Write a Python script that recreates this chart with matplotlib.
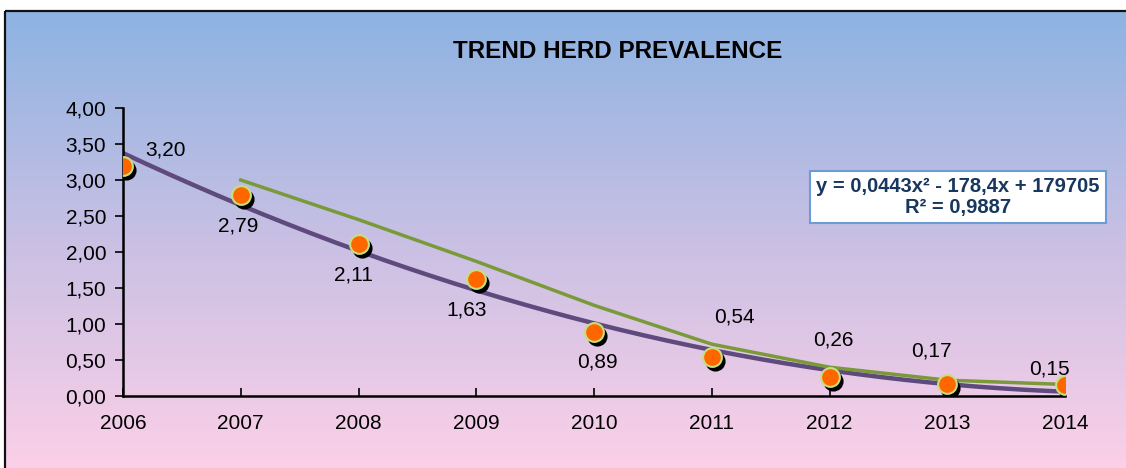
import numpy as np
import matplotlib
matplotlib.use('Agg')
import matplotlib.pyplot as plt
from matplotlib.patches import Rectangle
from matplotlib.colors import LinearSegmentedColormap

plt.rcParams['font.family'] = ['Liberation Sans', 'DejaVu Sans']

# data
years = [2006, 2007, 2008, 2009, 2010, 2011, 2012, 2013, 2014]
prevalence = [3.20, 2.79, 2.11, 1.63, 0.89, 0.54, 0.26, 0.17, 0.15]
labels = ['3,20', '2,79', '2,11', '1,63', '0,89', '0,54', '0,26', '0,17', '0,15']
ma_years = [2007, 2008, 2009, 2010, 2011, 2012, 2013, 2014]
moving_avg = [3.00, 2.45, 1.87, 1.26, 0.72, 0.40, 0.22, 0.16]
yticks = [0, 0.5, 1.0, 1.5, 2.0, 2.5, 3.0, 3.5, 4.0]
equation = 'y = 0,0443x² - 178,4x + 179705\nR² = 0,9887'

# label offsets in pixels (dx, dy), dy up
lab_off = [(43, 16), (-3, -31), (-5, -31), (-10, -31), (3, -30),
           (23, 40), (4, 37), (-16, 33), (-16, 16)]

W, H = 1126, 468
fig = plt.figure(figsize=(W/100, H/100), dpi=100)

# gradient background inside the frame
bg = fig.add_axes([0, 0, 1, 1], zorder=-10)
bg.set_xlim(0, W)
bg.set_ylim(H, 0)
bg.axis('off')
cmap = LinearSegmentedColormap.from_list('bp', ['#8db3e2', '#c9c0e4', '#fdd0e8'])
grad = np.linspace(0, 1, 256).reshape(-1, 1)
bg.imshow(grad, cmap=cmap, aspect='auto', extent=[5, W + 5, H + 5, 11], zorder=0)
bg.add_patch(Rectangle((5, 11), W + 10, H, fill=False, edgecolor='#111111', lw=1.6, zorder=1))

ax = fig.add_axes([123/W, 1 - 396/H, (1065 - 123)/W, (396 - 108)/H])
ax.patch.set_visible(False)

# polynomial trendline (order 2)
coef = np.polyfit(np.array(years) - 2006, prevalence, 2)
xs = np.linspace(0, 8, 200)
ax.plot(xs + 2006, np.polyval(coef, xs), color='#5f4a7d', lw=3.2, zorder=2)

# 2 period moving average
ax.plot(ma_years, moving_avg, color='#7a9a3a', lw=2.5, zorder=3)

# markers with shadow
shadow = ax.transData + matplotlib.transforms.ScaledTranslation(3/100, -4/100, fig.dpi_scale_trans)
ax.plot(years, prevalence, 'o', ms=13.5, color='black', zorder=4, transform=shadow)
ax.plot(years, prevalence, 'o', ms=13.5, mfc='#ff6600', mec='#c5e07a', mew=1.5, zorder=5)

for x, y, t, (dx, dy) in zip(years, prevalence, labels, lab_off):
    ax.annotate(t, (x, y), xytext=(dx*0.72, dy*0.72), textcoords='offset points',
                ha='center', va='center', fontsize=15, zorder=6)

ax.set_xlim(2006, 2014)
ax.set_ylim(0, 4)
ax.set_xticks(years)
ax.set_yticks(yticks)
ax.set_yticklabels([f'{v:.2f}'.replace('.', ',') for v in yticks])
for s in ('top', 'right'):
    ax.spines[s].set_visible(False)
for s in ('left', 'bottom'):
    ax.spines[s].set_linewidth(1.8)
ax.tick_params(axis='y', direction='out', length=6, width=1.2, labelsize=15, pad=6)
ax.tick_params(axis='x', direction='in', length=6, width=1.2, labelsize=15, pad=13)

fig.text(618/W, 1 - 52/H, 'TREND HERD PREVALENCE', ha='center', va='center',
         fontsize=17.5, fontweight='bold')

fig.text(958/W, 1 - 197/H, equation, ha='center', va='center', fontsize=14.5,
         fontweight='bold', color='#17375e', linespacing=1.1,
         bbox=dict(boxstyle='square,pad=0.3', fc='white', ec='#6d9bd6', lw=1.5))

fig.savefig('out.png', dpi=100)
